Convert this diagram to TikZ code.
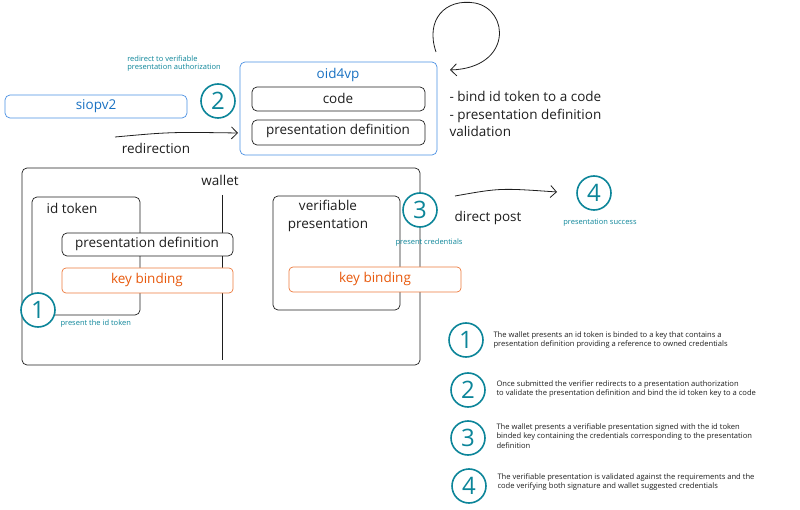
\documentclass[tikz,border=0pt]{standalone}
\usepackage{fontspec}
\setmainfont{Open Sans}
\usetikzlibrary{arrows.meta}
\definecolor{bl}{HTML}{1971C2}
\definecolor{bll}{HTML}{4A90E2}
\definecolor{tl}{HTML}{0C8599}
\definecolor{org}{HTML}{E8590C}
\definecolor{ink}{HTML}{1E1E1E}
\begin{document}
\begin{tikzpicture}[x=1pt,y=-1pt,
  box/.style={draw=ink,rounded corners=5pt,line width=0.7pt},
  bbox/.style={draw=bll,rounded corners=5pt,line width=0.7pt},
  obox/.style={draw=org!80,rounded corners=4pt,line width=0.7pt},
  num/.style={draw=tl,circle,line width=1.6pt,minimum size=34pt,inner sep=0pt,text=tl,font=\fontsize{24}{26}\selectfont},
  big/.style={font=\fontsize{13.5}{17.5}\selectfont,text=ink},
  sm/.style={font=\fontsize{7.5}{9}\selectfont,text=tl,align=left},
  leg/.style={font=\fontsize{7.6}{9.5}\selectfont,text=ink,align=left,anchor=west},
  arr/.style={-{Straight Barb[length=6pt,width=12pt]},line width=0.8pt,ink}]
\useasboundingbox (0,0) rectangle (800,510);
% top
\draw[bbox] (5,95) rectangle (187,118);
\node[big,text=bl] (siop) at (96,106) {siopv2};
\node[num] (n2) at (218,101) {2};
\node[sm] (lab2) at (174,64) {redirect to verifiable\\[-1pt]presentation authorization};
\draw[bbox] (240,62) rectangle (437,155);
\node[big,text=bl] (oid) at (338,75) {oid4vp};
\draw[box] (252,87) rectangle (425,111);
\node[big] (code) at (338,98) {code};
\draw[box] (252,120) rectangle (425,145);
\node[big] (pd1) at (338,131) {presentation definition};
\coordinate (r1) at (115,137);
\coordinate (r2) at (238,133);
\draw[arr] (r1) .. controls (170,132) .. (r2);
\node[big] (red) at (156,148) {redirection};
\node[big,align=left,anchor=north west] (notes) at (446,88) {- bind id token to a code\\- presentation definition\\validation};
\coordinate (l2) at (450,70);
\draw[arr] (436,52) .. controls (425,20) and (445,-2) .. (475,3) .. controls (510,10) and (512,68) .. (l2);
% wallet
\draw[box] (22,168) rectangle (420,365);
\node[big] (wal) at (220,180) {wallet};
\draw[line width=0.9pt,ink] (222,195) -- (222,360);
\draw[box] (32,197) rectangle (140,315);
\node[big] (idt) at (72,208) {id token};
\draw[box,fill=white] (62,233) rectangle (233,256);
\node[big] (pd2) at (147,244) {presentation definition};
\draw[obox,fill=white] (62,268) rectangle (233,293);
\node[big,text=org] (kb1) at (147,280) {key binding};
\node[num,fill=white] (n1) at (38,310) {1};
\node[sm,anchor=west] (lab1) at (57,324) {present the id token};
\draw[box] (273,196) rectangle (400,310);
\node[big,align=center] (vp) at (328,216) {verifiable\\presentation};
\draw[obox,fill=white] (289,267) rectangle (461,292);
\node[big,text=org] (kb2) at (375,279) {key binding};
\node[num,fill=white] (n3) at (420,210) {3};
\node[sm,anchor=west] (lab3) at (392,243) {present credentials};
\node[big] (dp) at (488,218) {direct post};
\coordinate (d1) at (455,196);
\draw[arr] (d1) .. controls (500,188) .. (557,192);
\node[num] (n4) at (594,193) {4};
\node[sm] (lab4) at (600,223) {presentation success};
% legend
\node[num] (g1) at (466,340) {1};
\node[leg] at (490,340) {The wallet presents an id token is binded to a key that contains a\\presentation definition providing a reference to owned credentials};
\node[num] (g2) at (468,390) {2};
\node[leg] at (493,389) {Once submitted the verifier redirects to a presentation authorization\\to validate the presentation definition and bind the id token key to a code};
\node[num] (g3) at (468,438) {3};
\node[leg] at (493,436) {The wallet presents a verifiable presentation signed with the id token\\binded key containing the credentials corresponding to the presentation\\definition};
\node[num] (g4) at (469,486) {4};
\node[leg] at (494,482) {The verifiable presentation is validated against the requirements and the\\code verifying both signature and wallet suggested credentials};
\end{tikzpicture}
\end{document}
